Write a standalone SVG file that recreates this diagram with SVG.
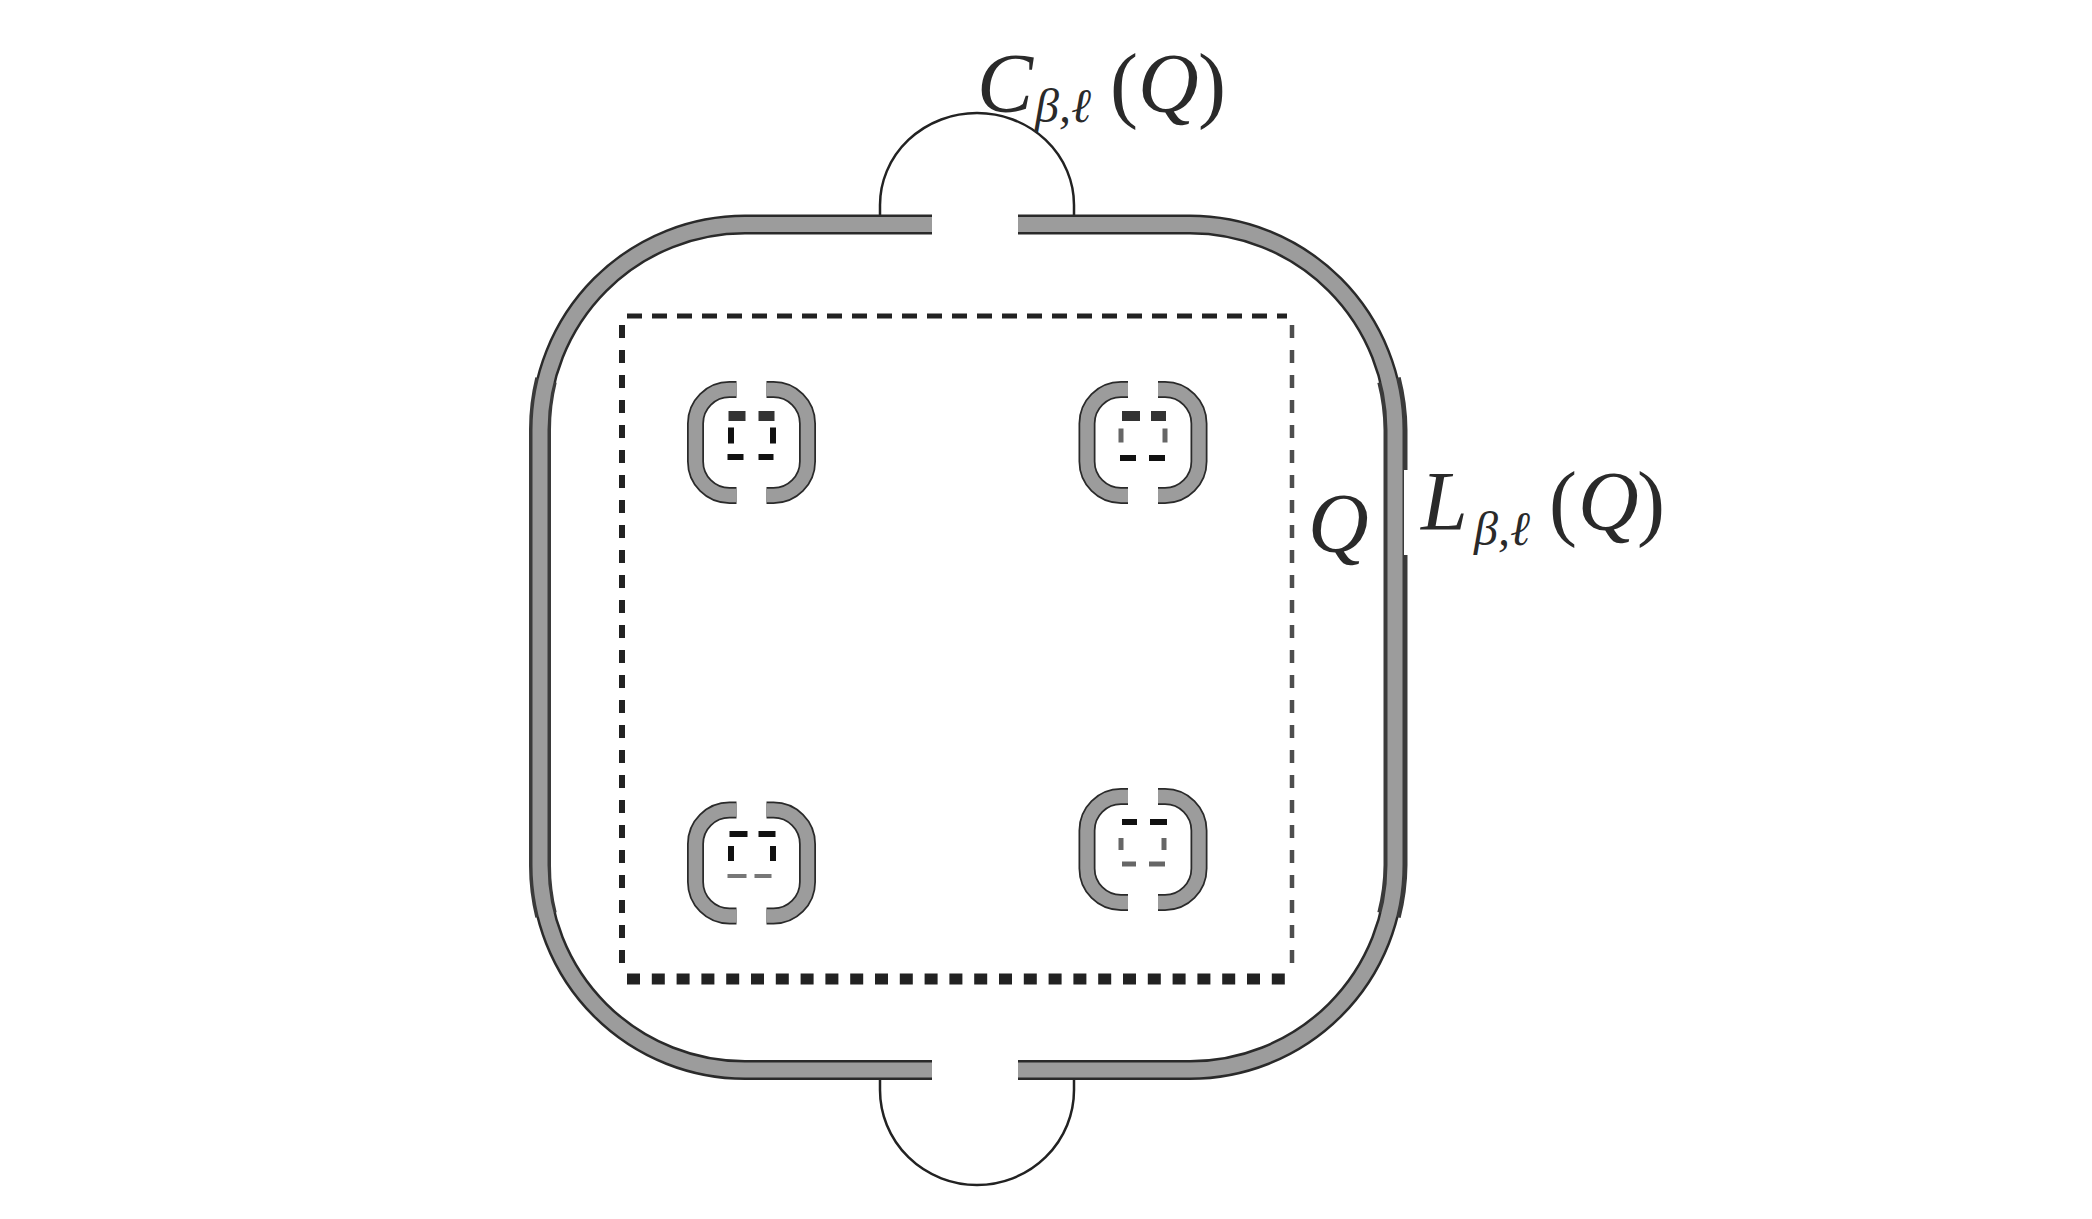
<svg xmlns="http://www.w3.org/2000/svg" width="2092" height="1219" viewBox="0 0 2092 1219">
<style>
.edge{fill:none;stroke:#2a2a2a;stroke-width:20}
.fill{fill:none;stroke:#9c9c9c;stroke-width:15}
.sideE{fill:none;stroke:#3a3a3a;}
.arc{fill:none;stroke:#222;stroke-width:2.5}
.dash{fill:none;stroke:#222}
.be{fill:none;stroke:#2a2a2a;stroke-width:17}
.bf{fill:none;stroke:#9c9c9c;stroke-width:13.5}
.d1{fill:none;stroke:#333;stroke-width:10}
.d2{fill:none;stroke:#111;stroke-width:6}
.d3{fill:none;stroke:#777;stroke-width:4}
.d4{fill:none;stroke:#666;stroke-width:5}
text{font-family:"Liberation Serif","DejaVu Serif",serif;fill:#2a2a2a}
.m{font-style:italic;font-size:84px}
.s{font-style:italic;font-size:48px}
.p{font-size:84px}
</style>
<defs>
<g id="brk">
<path class="be" d="M-15 -53H-22A34 34 0 0 0 -56 -19V19A34 34 0 0 0 -22 53H-15"/>
<path class="bf" d="M-15 -53H-22A34 34 0 0 0 -56 -19V19A34 34 0 0 0 -22 53H-15"/>
<path class="be" d="M15 -53H22A34 34 0 0 1 56 -19V19A34 34 0 0 1 22 53H15"/>
<path class="bf" d="M15 -53H22A34 34 0 0 1 56 -19V19A34 34 0 0 1 22 53H15"/>
</g>
</defs>
<rect width="2092" height="1219" fill="#fff"/>
<g id="connectors">
<path class="arc" d="M880 216V205A97 92 0 0 1 1074 205V216"/>
<path class="arc" d="M880 1078V1090A97 95 0 0 0 1074 1090V1078"/>
</g>
<g id="outer-boundary">
<path class="edge" d="M932 224.500H745A205 206 0 0 0 540 430V865A205 205 0 0 0 745 1070H932"/>
<path class="edge" d="M1018 224.500H1190A205 206 0 0 1 1395 430V865A205 205 0 0 1 1190 1070H1018"/>
<path class="sideE" stroke-width="22" d="M546 380A205 206 0 0 0 540 430V865A205 205 0 0 0 546 915"/>
<path class="sideE" stroke-width="24" d="M1389 380A205 206 0 0 1 1395.500 430V865A205 205 0 0 1 1389 915"/>
<path class="fill" d="M932 224.500H745A205 206 0 0 0 540 430V865A205 205 0 0 0 745 1070H932"/>
<path class="fill" d="M1018 224.500H1190A205 206 0 0 1 1395 430V865A205 205 0 0 1 1190 1070H1018"/>
<rect x="1404" y="470" width="5" height="85" fill="#fff"/>
</g>
<g id="Q-square">
<path class="dash" stroke-width="5" stroke-dasharray="15 10" d="M627 316H1287"/>
<path class="dash" stroke-width="6" stroke-dasharray="13 12" d="M622 325V972"/>
<path class="dash" stroke-width="4.500" stroke-dasharray="13 12" stroke-opacity=".8" d="M1292 325V972"/>
<path class="dash" stroke-width="11" stroke-dasharray="13 11.800" d="M627 979H1287"/>
</g>
<g id="node-tl" transform="translate(751.500 442.500)">
<use href="#brk"/>
<path class="d1" d="M-23 -26.500H-6M7 -26.500H23"/>
<path class="d2" d="M-20.500 -15V1M21.500 -15V1"/>
<path class="d2" d="M-24 14.500H-8M7 14.500H22"/>
</g>
<g id="node-tr" transform="translate(1143 442.500)">
<use href="#brk"/>
<path class="d1" d="M-21 -26.500H-3M8 -26.500H23"/>
<path class="d4" d="M-22 -14V0M22 -14V0"/>
<path class="d2" d="M-23 15.500H-7M6 15.500H22"/>
</g>
<g id="node-bl" transform="translate(751.500 863)">
<use href="#brk"/>
<path class="d2" stroke-width="7" d="M-22 -29H-4M7 -29H24"/>
<path class="d2" d="M-20.500 -17V-2M21.500 -17V-2"/>
<path class="d3" d="M-24 13H-5M3 13H20"/>
</g>
<g id="node-br" transform="translate(1143 849.500)">
<use href="#brk"/>
<path class="d2" stroke-width="7" d="M-21 -27.500H-6M7 -27.500H24"/>
<path class="d4" d="M-22 -11.500V0.500M21 -11.500V0.500"/>
<path class="d4" d="M-21 14.500H-7M6 14.500H22"/>
</g>
<g id="labels">
<text x="977" y="112"><tspan class="m">C</tspan><tspan class="s" x="1035" y="122">β,ℓ</tspan><tspan class="p" x="1110" y="112">(</tspan><tspan class="m" x="1138" y="112">Q</tspan><tspan class="p" x="1198" y="112">)</tspan></text>
<text class="m" x="1308" y="552">Q</text>
<text x="1421" y="530"><tspan class="m">L</tspan><tspan class="s" x="1474" y="545">β,ℓ</tspan><tspan class="p" x="1549" y="530">(</tspan><tspan class="m" x="1578" y="530">Q</tspan><tspan class="p" x="1637" y="530">)</tspan></text>
</g>
</svg>
